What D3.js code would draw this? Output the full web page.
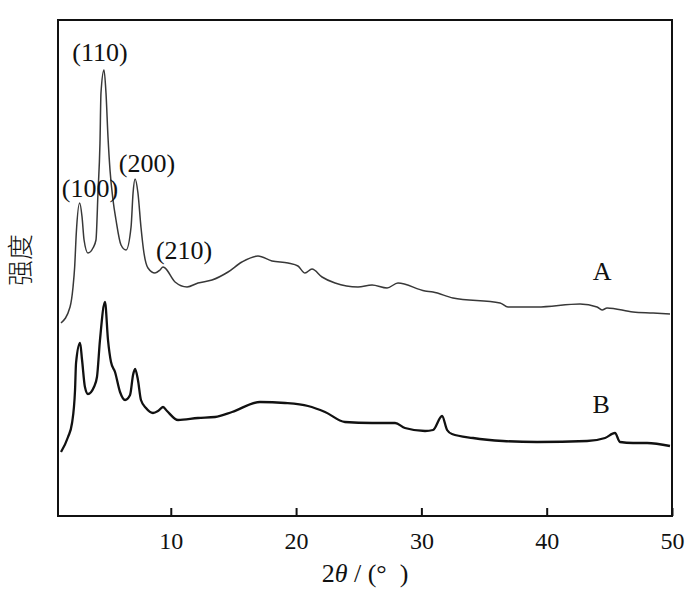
<!DOCTYPE html>
<html>
<head>
<meta charset="utf-8">
<script src="https://cdn.jsdelivr.net/npm/d3@7"></script>
<style>
  body { margin: 0; background: #fff; }
  text { font-family: "Liberation Serif", "DejaVu Serif", serif; fill: #111; }
</style>
</head>
<body>
<svg id="chart" width="700" height="599"></svg>
<script>
// 2θ (°) and intensity (arbitrary units)
let angleA = [1.24, 1.96, 2.2, 2.33, 2.46, 2.73, 2.92, 3.08, 3.39, 3.79, 4.03, 4.19, 4.35, 4.43, 4.67, 4.83, 4.99, 5.15, 5.39, 5.63, 6.03, 6.43, 6.83, 6.99, 7.15, 7.38, 7.62, 7.86, 8.18, 8.74, 9.14, 9.38, 9.54, 10.34, 11.3, 12.17, 13.29, 14.57, 15.68, 16.96, 18.08, 19.36, 20.15, 20.71, 21.27, 22.07, 23.11, 24.94, 26.06, 27.26, 28.13, 30.29, 30.93, 32.52, 36.28, 36.91, 39.23, 42.66, 44.02, 44.42, 44.82, 46.89, 48.49, 49.84];
let intensityA = [193, 209, 229, 249, 283, 313, 299, 276, 263, 268, 276, 323, 373, 423, 446, 423, 379, 346, 316, 296, 271, 266, 289, 323, 337, 323, 289, 263, 248, 243, 246, 249, 248, 234, 229, 233, 236, 244, 254, 260, 255, 253, 250, 243, 247, 239, 233, 229, 231, 228, 233, 225, 224, 218, 213, 209, 209, 212, 209, 206, 208, 204, 203, 202];

let angleB = [1.24, 1.8, 2.12, 2.36, 2.44, 2.76, 2.92, 3.15, 3.39, 3.87, 4.11, 4.35, 4.75, 4.99, 5.23, 5.55, 5.95, 6.35, 6.75, 6.99, 7.15, 7.38, 7.62, 8.02, 8.58, 8.98, 9.38, 9.7, 10.58, 12.17, 13.53, 14.89, 17.12, 19.12, 20.95, 22.31, 23.9, 26.06, 27.9, 28.69, 30.29, 30.93, 31.65, 32.05, 32.44, 34.12, 36.51, 39.23, 43.22, 44.66, 45.45, 45.85, 46.89, 48.01, 49.84];
let intensityB = [64, 79, 93, 126, 153, 173, 156, 129, 122, 129, 139, 176, 214, 176, 154, 144, 124, 116, 121, 141, 147, 136, 116, 108, 103, 105, 109, 105, 96, 98, 99, 104, 114, 113, 110, 104, 94, 93, 93, 88, 85, 86, 100, 86, 82, 78, 75, 74, 75, 78, 83, 74, 73, 73, 70];

let xTicks = [10, 20, 30, 40, 50];

// peak labels, centred at [2θ, intensity of baseline]
let peakLabels = ["(100)", "(110)", "(200)", "(210)"];
let peakAngles = [3.55, 4.35, 8.1, 11.06];
let peakLevels = [319, 455, 344, 257];

let seriesNames = ["A", "B"];
let seriesAngles = [44.42, 44.34];
let seriesLevels = [236, 103];

let margin = {left: 58, right: 28, top: 20, bottom: 83};
let width = 700, height = 599;

let svg = d3.select('#chart');

let x = d3.scaleLinear().domain([1, 50]).range([margin.left, width - margin.right]);
let y = d3.scaleLinear().domain([0, 496]).range([height - margin.bottom, margin.top]);

let line = d3.line()
    .x(d => x(d[0]))
    .y(d => y(d[1]))
    .curve(d3.curveMonotoneX);

let dataA = angleA.map((a, i) => [a, intensityA[i]]);
let dataB = angleB.map((a, i) => [a, intensityB[i]]);

svg.append('path')
    .datum(dataA)
    .attr('d', line)
    .attr('fill', 'none')
    .attr('stroke', '#383838')
    .attr('stroke-width', 1.5)
    .attr('stroke-linejoin', 'round');

svg.append('path')
    .datum(dataB)
    .attr('d', line)
    .attr('fill', 'none')
    .attr('stroke', '#111')
    .attr('stroke-width', 2.3)
    .attr('stroke-linejoin', 'round');

// frame
svg.append('rect')
    .attr('x', x(1))
    .attr('y', y(496))
    .attr('width', x(50) - x(1))
    .attr('height', y(0) - y(496))
    .attr('fill', 'none')
    .attr('stroke', '#111')
    .attr('stroke-width', 2);

// bottom axis, ticks pointing in
let xAxis = d3.axisBottom(x)
    .tickValues(xTicks)
    .tickSizeInner(-8)
    .tickSizeOuter(0)
    .tickPadding(16);

let gx = svg.append('g')
    .attr('transform', 'translate(0,' + y(0) + ')')
    .call(xAxis);
gx.select('.domain').remove();
gx.selectAll('.tick line').attr('stroke', '#111').attr('stroke-width', 2);
gx.selectAll('.tick text')
    .style('font-family', '"Liberation Serif", serif')
    .style('font-size', '24px')
    .attr('fill', '#111');

// axis titles
let xt = svg.append('text')
    .attr('x', 365)
    .attr('y', 582)
    .attr('text-anchor', 'middle')
    .style('font-size', '26px');
xt.append('tspan').text('2');
xt.append('tspan').style('font-style', 'italic').text('θ');
xt.append('tspan').text(' / (°\u00a0\u00a0)');

svg.append('text')
    .attr('transform', 'translate(30,260) rotate(-90)')
    .attr('text-anchor', 'middle')
    .style('font-family', '"Noto Sans CJK SC", sans-serif')
    .style('font-weight', 300)
    .style('font-size', '26px')
    .text('强度');

// peak indices
svg.selectAll('.peak')
    .data(peakLabels)
    .enter().append('text')
    .attr('class', 'peak')
    .attr('x', (d, i) => x(peakAngles[i]))
    .attr('y', (d, i) => y(peakLevels[i]))
    .attr('text-anchor', 'middle')
    .style('font-size', '26px')
    .text(d => d);

svg.selectAll('.series')
    .data(seriesNames)
    .enter().append('text')
    .attr('class', 'series')
    .attr('x', (d, i) => x(seriesAngles[i]))
    .attr('y', (d, i) => y(seriesLevels[i]))
    .attr('text-anchor', 'middle')
    .style('font-size', '26px')
    .text(d => d);
</script>
</body>
</html>
